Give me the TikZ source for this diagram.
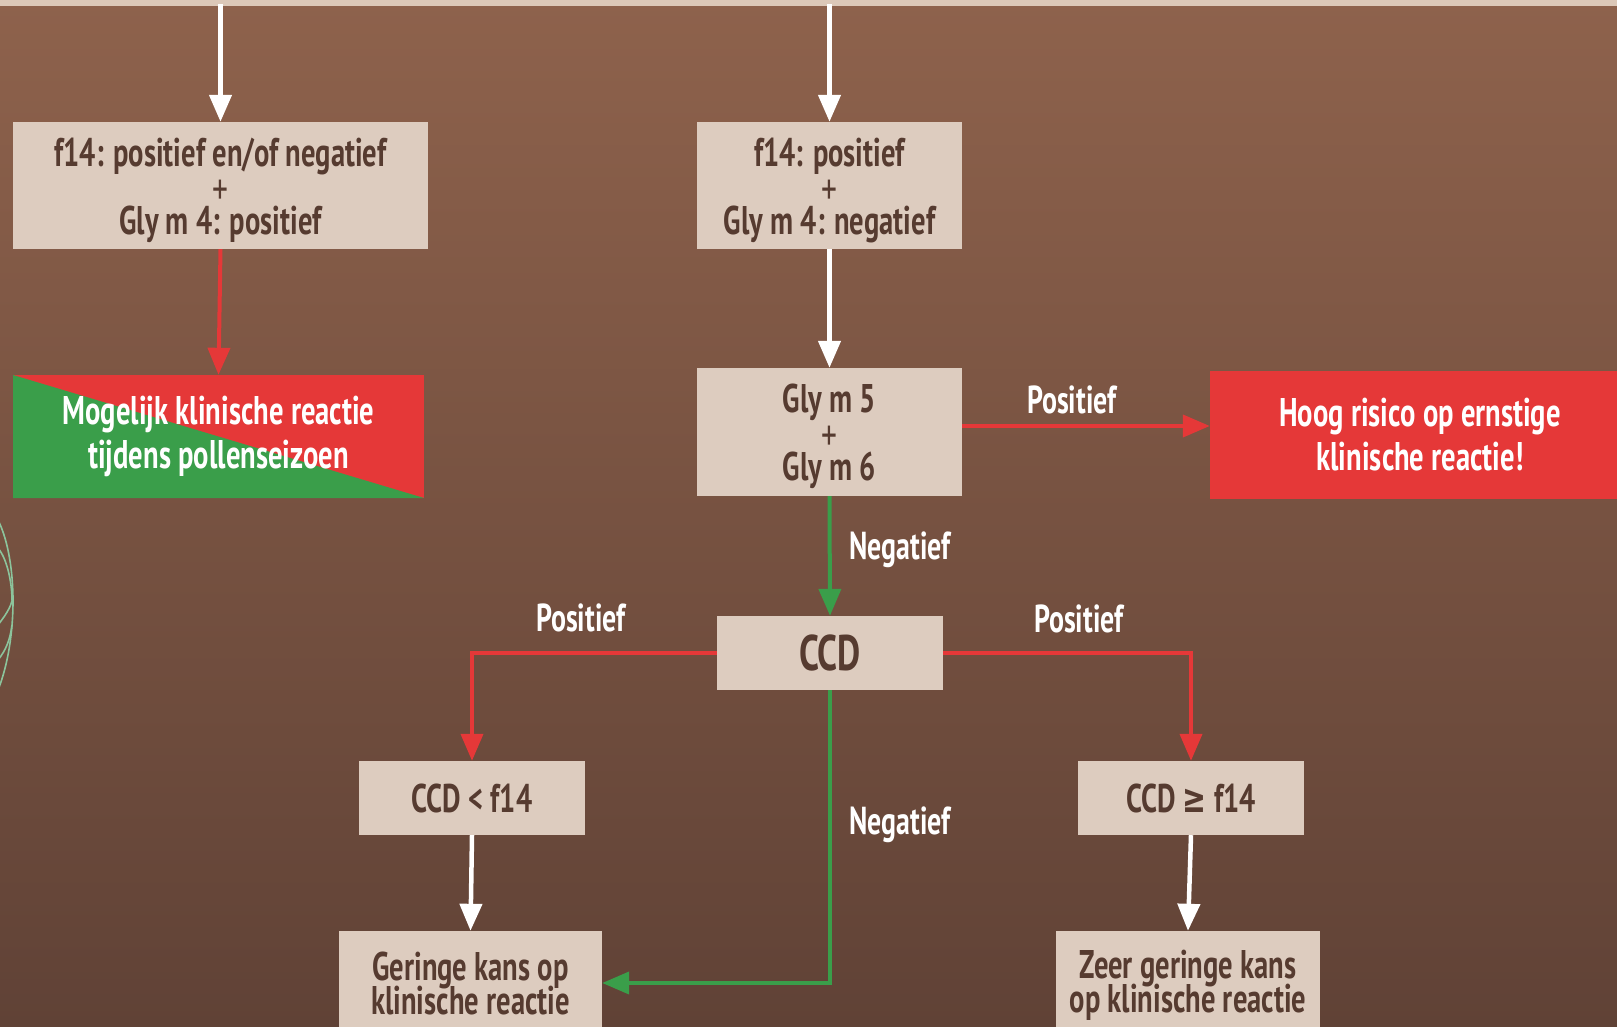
\documentclass[tikz,border=0pt]{standalone}
\usepackage{fontspec}
\setmainfont{PT Sans}[FakeStretch=0.715]
\newfontfamily\symf{DejaVu Sans}[FakeStretch=0.715]
\usetikzlibrary{arrows.meta}
\definecolor{bgtop}{RGB}{142,98,76}
\definecolor{bgmid}{RGB}{110,75,59}
\definecolor{bgbot}{RGB}{96,66,54}
\definecolor{boxfill}{RGB}{221,204,191}
\definecolor{boxtext}{RGB}{86,59,48}
\definecolor{rd}{RGB}{229,56,56}
\definecolor{gr}{RGB}{58,158,74}
\definecolor{leafc}{RGB}{140,196,156}
\definecolor{band}{RGB}{220,200,184}
\newcommand{\plusline}{{\fontsize{44}{34}\selectfont\mdseries\raisebox{-4pt}{+}}}
\newcommand{\topstrut}{\rule{0pt}{38pt}}
\begin{document}
\lineskiplimit=-100pt
\begin{tikzpicture}[x=1pt,y=-1pt,
  box/.style={fill=boxfill, text=boxtext, font=\fontsize{40}{34}\selectfont\bfseries, align=center, inner sep=0pt},
  wide/.style={font=\fontsize{40}{44}\selectfont\bfseries},
  lbl/.style={text=white, font=\fontsize{39}{34}\selectfont\bfseries, inner sep=0pt},
  tip/.style={-{Triangle[width=22pt,length=27pt]}},
  warrow/.style={tip, draw=white, line width=4.5pt},
  rarrow/.style={tip, draw=rd, line width=4pt},
  garrow/.style={tip, draw=gr, line width=4pt}]
\useasboundingbox (0,0) rectangle (1617,1027);
\clip (0,0) rectangle (1617,1027);
\shade[top color=bgtop, middle color=bgmid, bottom color=bgbot] (0,0) rectangle (1617,1027);
\fill[band] (0,0) rectangle (1617,6);
% leaf decoration
\begin{scope}[draw=leafc, line width=1.6pt]
\draw (-2,520) .. controls (18,560) and (18,640) .. (-2,690);
\draw (-2,548) .. controls (8,560) and (12,585) .. (12,600);
\draw (-2,625) .. controls (8,612) and (12,605) .. (13,595);
\draw (-2,660) .. controls (6,650) and (10,640) .. (12,625);
\end{scope}
% nodes
\node[box, minimum width=415pt, minimum height=127pt] (A) at (220.5,185.5)
  {\topstrut f14: positief en/of negatief\\\plusline\\Gly m 4: positief};
\node[box, minimum width=265pt, minimum height=127pt] (B) at (829.5,185.5)
  {\topstrut f14: positief\\\plusline\\Gly m 4: negatief};
\node[box, wide, text=white, minimum width=411pt, minimum height=123pt, fill=rd,
  path picture={\fill[gr] (path picture bounding box.north west) -- (path picture bounding box.south west) -- (path picture bounding box.south east) -- cycle;}]
  (RG) at (218.5,436.5) {Mogelijk klinische reactie\\tijdens pollenseizoen};
\node[box, minimum width=265pt, minimum height=128pt] (C) at (829.5,432)
  {\topstrut Gly m 5\\\plusline\\Gly m 6};
\node[box, wide, text=white, fill=rd, minimum width=420pt, minimum height=128pt] (H) at (1420,435)
  {Hoog risico op ernstige\\klinische reactie!};
\node[box, minimum width=226pt, minimum height=74pt, font=\fontsize{50}{50}\selectfont\bfseries] (CCD) at (830,653) {CCD};
\node[box, minimum width=226pt, minimum height=74pt] (CL) at (472,798) {CCD < f14};
\node[box, minimum width=226pt, minimum height=74pt] (CG) at (1191,798) {CCD {\symf ≥} f14};
\node[box, minimum width=263pt, minimum height=104pt] (G) at (470.5,983)
  {Geringe kans op\\klinische reactie};
\node[box, minimum width=264pt, minimum height=104pt] (Z) at (1188,983)
  {\rule{0pt}{33pt}Zeer geringe kans\\op klinische reactie};
% free ends at top
\coordinate (tA) at (220.5,4);
\coordinate (tB) at (829.5,4);
% connectors
\draw[warrow] (tA) -- (A.north);
\draw[warrow] (tB) -- (B.north);
\draw[rarrow] (A.south) -- (RG.north);
\draw[warrow] (B.south) -- (C.north);
\draw[rarrow] ([yshift=6pt]C.east) -- ([yshift=6pt]C.east -| H.west);
\draw[garrow] (C.south) -- (CCD.north);
\draw[rarrow] (CCD.west) -| (CL.north);
\draw[rarrow] (CCD.east) -| (CG.north);
\draw[garrow] (CCD.south) |- (G.east);
\draw[warrow] (CL.south) -- (G.north);
\draw[warrow] (CG.south) -- (Z.north);
% labels
\node[lbl] (lph) at (1072,400) {Positief};
\node[lbl] (ln1) at (900,550) {Negatief};
\node[lbl] (lp1) at (581,618) {Positief};
\node[lbl] (lp2) at (1079,619) {Positief};
\node[lbl] (ln2) at (900,825) {Negatief};
\end{tikzpicture}
\end{document}
